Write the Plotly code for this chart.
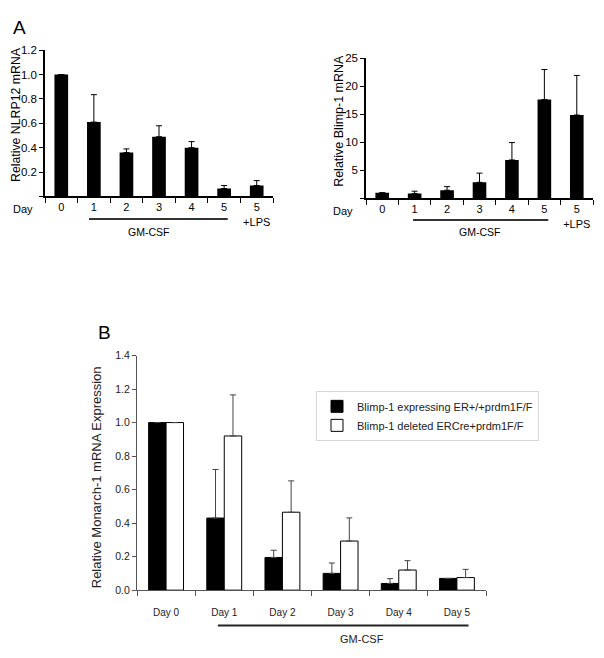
import plotly.graph_objects as go

# ---------------- data ----------------
a_cats = ["0", "1", "2", "3", "4", "5", "5<br>+LPS"]
nlrp12 = [1.0, 0.61, 0.36, 0.49, 0.40, 0.065, 0.09]
nlrp12_err = [0.0, 0.225, 0.03, 0.09, 0.05, 0.025, 0.04]
blimp = [1.0, 0.88, 1.46, 2.87, 6.85, 17.6, 14.85]
blimp_err = [0.0, 0.41, 0.64, 1.63, 3.1, 5.35, 7.05]

b_cats = ["Day 0", "Day 1", "Day 2", "Day 3", "Day 4", "Day 5"]
b_black = [1.0, 0.43, 0.195, 0.10, 0.04, 0.07]
b_black_err = [0.0, 0.29, 0.043, 0.062, 0.029, 0.0]
b_white = [1.0, 0.92, 0.465, 0.293, 0.12, 0.075]
b_white_err = [0.0, 0.245, 0.187, 0.138, 0.056, 0.049]
legend_names = ["Blimp-1 expressing ER+/+prdm1F/F", "Blimp-1 deleted ERCre+prdm1F/F"]

FONT = "Liberation Sans, Arial, Helvetica, sans-serif"

W, H = 604, 658
def px_x(p):
    return p / W
def px_y(p):
    return 1 - p / H

fig = go.Figure()

ia = list(range(len(a_cats)))
ib = list(range(len(b_cats)))

fig.add_trace(go.Bar(x=ia, y=nlrp12, width=0.42, marker=dict(color="black", line=dict(width=0)),
                     error_y=dict(type="data", array=nlrp12_err, arrayminus=[0]*7, symmetric=False,
                                  color="black", thickness=1, width=3),
                     xaxis="x", yaxis="y", showlegend=False))
fig.add_trace(go.Bar(x=ia, y=blimp, width=0.42, marker=dict(color="black", line=dict(width=0)),
                     error_y=dict(type="data", array=blimp_err, arrayminus=[0]*7, symmetric=False,
                                  color="black", thickness=1, width=3),
                     xaxis="x2", yaxis="y2", showlegend=False))
fig.add_trace(go.Bar(x=ib, y=b_black, width=0.3, offset=-0.3, name=legend_names[0],
                     marker=dict(color="black", line=dict(color="black", width=1)),
                     error_y=dict(type="data", array=b_black_err, arrayminus=[0]*6, symmetric=False,
                                  color="#444", thickness=1, width=3),
                     xaxis="x3", yaxis="y3"))
fig.add_trace(go.Bar(x=ib, y=b_white, width=0.3, offset=0.0, name=legend_names[1],
                     marker=dict(color="white", line=dict(color="black", width=1)),
                     error_y=dict(type="data", array=b_white_err, arrayminus=[0]*6, symmetric=False,
                                  color="#444", thickness=1, width=3),
                     xaxis="x3", yaxis="y3"))

def xaxis_cfg(domain, anchor, cats, n, font, color="black", lw=1.5, standoff=0):
    return dict(domain=domain, anchor=anchor, range=[-0.5, n - 0.5],
                tickvals=list(range(n)), ticktext=cats, ticks="", showgrid=False,
                zeroline=False, showline=True, linecolor=color, linewidth=lw,
                tickfont=font, ticklabelstandoff=standoff,
                minor=dict(tickvals=[i - 0.5 for i in range(n + 1)], ticks="outside",
                           ticklen=5, tickcolor=color, tickwidth=1, showgrid=False))

def yaxis_cfg(domain, anchor, rng, vals, text, font, color="black", lw=1.5):
    return dict(domain=domain, anchor=anchor, range=rng, tickvals=vals, ticktext=text,
                ticks="outside", ticklen=4, tickcolor=color, tickwidth=1, showgrid=False,
                zeroline=False, showline=True, linecolor=color, linewidth=lw, tickfont=font)

fa_x = dict(family=FONT, size=11, color="black")
fa_y = dict(family=FONT, size=11.5, color="black")
fb_x = dict(family=FONT, size=10, color="#222")
fb_y = dict(family=FONT, size=10.5, color="#222")

fig.update_layout(
    width=W, height=H, margin=dict(l=0, r=0, t=0, b=0),
    paper_bgcolor="white", plot_bgcolor="white", barmode="overlay",
    font=dict(family=FONT, color="black"),
    xaxis=xaxis_cfg([px_x(45), px_x(273)], "y", a_cats, 7, fa_x),
    yaxis=yaxis_cfg([px_y(194), px_y(45)], "x", [0, 1.2],
                    [0, 0.2, 0.4, 0.6, 0.8, 1.0, 1.2], ["", "0.2", "0.4", "0.6", "0.8", "1.0", "1.2"], fa_y),
    xaxis2=xaxis_cfg([px_x(366), px_x(593)], "y2", a_cats, 7, fa_x),
    yaxis2=yaxis_cfg([px_y(196), px_y(53)], "x2", [0, 25],
                     [0, 5, 10, 15, 20, 25], ["", "5", "10", "15", "20", "25"], fa_y),
    xaxis3=xaxis_cfg([px_x(137), px_x(486)], "y3", b_cats, 6, fb_x, color="#555", lw=1.2, standoff=13),
    yaxis3=yaxis_cfg([px_y(595), px_y(356)], "x3", [0, 1.4],
                     [0, 0.2, 0.4, 0.6, 0.8, 1.0, 1.2, 1.4],
                     ["0.0", "0.2", "0.4", "0.6", "0.8", "1.0", "1.2", "1.4"], fb_y, color="#555", lw=1.2),
    legend=dict(x=px_x(316), y=px_y(392), xanchor="left", yanchor="top",
                bordercolor="#d8d8d8", borderwidth=1, bgcolor="white",
                font=dict(family=FONT, size=11, color="#222"), tracegroupgap=0,
                itemwidth=30, traceorder="normal"),
    showlegend=True,
)

ann = []
def add_text(x, y, text, size=12, angle=0, color="black"):
    ann.append(dict(x=px_x(x), y=px_y(y), xref="paper", yref="paper", text=text, showarrow=False,
                    font=dict(family=FONT, size=size, color=color), textangle=angle,
                    xanchor="center", yanchor="middle"))

add_text(19, 22, "A", size=19)
add_text(104, 333, "B", size=19)
add_text(23, 207, "Day", size=11)
add_text(343, 209, "Day", size=11)
add_text(16, 111, "Relative NLRP12 mRNA", size=12.3, angle=-90)
add_text(339, 117, "Relative Blimp-1 mRNA", size=12.5, angle=-90)
add_text(96, 480, "Relative Monarch-1 mRNA Expression", size=13, angle=-90, color="#222")
add_text(148, 230, "GM-CSF", size=10.5)
add_text(480, 230, "GM-CSF", size=10.5)
add_text(362, 645, "GM-CSF", size=11, color="#222")
fig.update_layout(annotations=ann)

shapes = [
    dict(type="line", xref="x", yref="paper", x0=0.85, x1=5.11, y0=px_y(217), y1=px_y(217),
         line=dict(color="#333", width=2)),
    dict(type="line", xref="x2", yref="paper", x0=0.95, x1=5.12, y0=px_y(218), y1=px_y(218),
         line=dict(color="#333", width=2)),
    dict(type="line", xref="x3", yref="paper", x0=0.89, x1=5.2, y0=px_y(631), y1=px_y(631),
         line=dict(color="#222", width=2)),
]
fig.update_layout(shapes=shapes)

fig.write_html("out.html", config={"displayModeBar": False},
               post_script="document.body.style.margin='0';document.body.style.padding='0';")
